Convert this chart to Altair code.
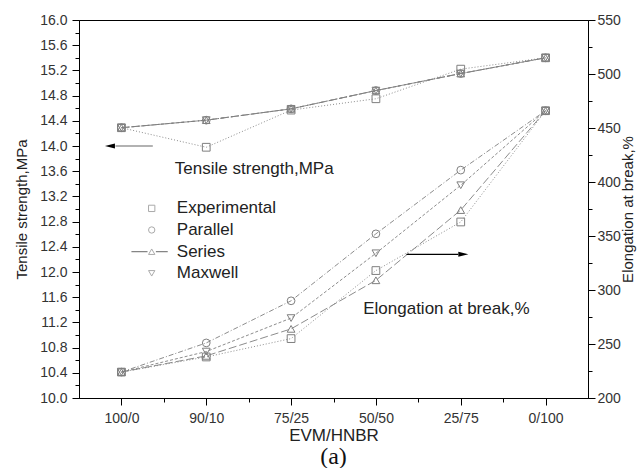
import json
import altair as alt
import pandas as pd

categories = ["100/0", "90/10", "75/25", "50/50", "25/75", "0/100"]
series_names = ["Experimental", "Parallel", "Series", "Maxwell"]
series_shapes = ["square", "circle", "triangle-up", "triangle-down"]

tensile_experimental = [14.29, 13.98, 14.57, 14.75, 15.22, 15.40]
tensile_parallel = [14.29, 14.41, 14.59, 14.88, 15.15, 15.40]
tensile_series = [14.29, 14.41, 14.59, 14.88, 15.15, 15.40]
tensile_maxwell = [14.29, 14.41, 14.59, 14.88, 15.15, 15.40]

elong_experimental = [224, 238, 255, 318, 363, 466]
elong_parallel = [224, 251, 290, 352, 411, 466]
elong_series = [224, 239, 264, 309, 374, 466]
elong_maxwell = [224, 243, 274, 334, 397, 466]

# annotation anchors (category-index units, axis units)
arrow_left_x = [1.37, 0.93]
arrow_left_head = [0.865]
arrow_left_y = [14.0]
arrow_right_x = [4.36, 4.97]
arrow_right_head = [5.03]
arrow_right_y = [333]
text_left = ["Tensile strength,MPa"]
text_left_pos = [1.63, 13.63]
text_right = ["Elongation at break,%"]
text_right_pos = [3.85, 282]
# in-plot legend anchors (left-axis units)
legend_symbol_x = 1.357
legend_label_x = 1.653
legend_rows_y = [13.01, 12.667, 12.322, 11.979]
legend_series_line = [1.118, 1.546]


def long_df(vals_by_series):
    rows = []
    for name, vals in zip(series_names, vals_by_series):
        for i, v in enumerate(vals):
            rows.append({"idx": i + 1, "series": name, "value": v})
    return pd.DataFrame(rows)


tensile_df = long_df([tensile_experimental, tensile_parallel, tensile_series, tensile_maxwell])
elong_df = long_df([elong_experimental, elong_parallel, elong_series, elong_maxwell])

FONT = "Liberation Sans"
GRAY = "#7f7f7f"

xscale = alt.Scale(domain=[0.5, 6.5], nice=False, zero=False)
xaxis = alt.Axis(
    title="EVM/HNBR",
    values=[1, 1.5, 2, 2.5, 3, 3.5, 4, 4.5, 5, 5.5, 6],
    labelExpr="datum.value % 1 == 0 ? " + json.dumps(categories) + "[datum.value - 1] : ''",
    tickSize={"condition": {"test": "datum.value % 1 == 0", "value": 7}, "value": 4},
    grid=False, labelPadding=6, titlePadding=2, titleFontSize=17,
)

left_scale = alt.Scale(domain=[10, 16], nice=False, zero=False)
left_axis = alt.Axis(
    orient="left", title="Tensile strength,MPa",
    values=[round(10 + 0.2 * i, 1) for i in range(31)],
    labelExpr="round(datum.value * 10) % 4 == 0 ? format(datum.value, '.1f') : ''",
    tickSize={"condition": {"test": "round(datum.value * 10) % 4 == 0", "value": 7}, "value": 4},
    grid=False, labelPadding=5, titlePadding=10, titleFontSize=15,
)
right_scale = alt.Scale(domain=[200, 550], nice=False, zero=False)
right_axis = alt.Axis(
    orient="right", title="Elongation at break,%",
    values=[200 + 25 * i for i in range(15)],
    labelExpr="datum.value % 50 == 0 ? format(datum.value, 'd') : ''",
    tickSize={"condition": {"test": "datum.value % 50 == 0", "value": 7}, "value": 4},
    grid=False, labelPadding=2, titlePadding=0, titleAngle=-90, titleBaseline="top",
    titleFontSize=15,
)

dash = alt.StrokeDash("series:N", scale=alt.Scale(domain=series_names,
                      range=[[1, 2], [5, 2, 1, 2], [8, 3], [3, 2]]), legend=None)
shape = alt.Shape("series:N", scale=alt.Scale(domain=series_names, range=series_shapes), legend=None)


def group(df, yscale, yaxis):
    x = alt.X("idx:Q", scale=xscale, axis=xaxis)
    y = alt.Y("value:Q", scale=yscale, axis=yaxis)
    base = alt.Chart(df)
    lines = base.mark_line(color=GRAY, strokeWidth=0.9).encode(x=x, y=y, strokeDash=dash)
    pts = base.mark_point(filled=False, color=GRAY, strokeWidth=1, size=60, opacity=1).encode(
        x=x, y=y, shape=shape)
    return lines, pts


tl, tp = group(tensile_df, left_scale, left_axis)
el, ep = group(elong_df, right_scale, right_axis)

xa = alt.X("idx:Q", scale=xscale, axis=xaxis)
yl = alt.Y("value:Q", scale=left_scale, axis=left_axis)
yr = alt.Y("value:Q", scale=right_scale, axis=right_axis)

la_df = pd.DataFrame({"idx": [arrow_left_x[0]], "idx2": [arrow_left_x[1]], "value": arrow_left_y})
la_shaft = alt.Chart(la_df).mark_rule(color="#999", strokeWidth=1.5).encode(x=xa, x2="idx2:Q", y=yl)
la_head = alt.Chart(pd.DataFrame({"idx": arrow_left_head, "value": arrow_left_y})).mark_point(
    shape="M-1,0L1,-0.5L1,0.5Z", filled=True, color="black", size=100, opacity=1).encode(x=xa, y=yl)
lt = alt.Chart(pd.DataFrame({"idx": [text_left_pos[0]], "value": [text_left_pos[1]], "t": text_left})).mark_text(
    align="left", baseline="middle", fontSize=17, font=FONT, color="#222").encode(x=xa, y=yl, text="t:N")

# legend drawn inside the plot
leg_df = pd.DataFrame({"idx": [legend_symbol_x] * 4, "lx": [legend_label_x] * 4,
                       "value": legend_rows_y, "series": series_names})
leg_line = alt.Chart(pd.DataFrame({"idx": [legend_series_line[0]], "idx2": [legend_series_line[1]],
                                   "value": [legend_rows_y[2]]})).mark_rule(
    color="#666", strokeWidth=1).encode(x=xa, x2="idx2:Q", y=yl)
leg_gap = alt.Chart(pd.DataFrame({"idx": [legend_symbol_x], "value": [legend_rows_y[2]]})).mark_point(
    shape="square", filled=True, color="white", size=70, opacity=1).encode(x=xa, y=yl)
leg_sym = alt.Chart(leg_df).mark_point(filled=False, color="#aaa", strokeWidth=1, size=40, opacity=1).encode(
    x=xa, y=yl, shape=shape)
leg_txt = alt.Chart(leg_df).mark_text(align="left", baseline="middle", fontSize=17, font=FONT,
                                      color="#222").encode(
    x=alt.X("lx:Q", scale=xscale, axis=xaxis), y=yl, text="series:N")

ra_df = pd.DataFrame({"idx": [arrow_right_x[0]], "idx2": [arrow_right_x[1]], "value": arrow_right_y})
ra_shaft = alt.Chart(ra_df).mark_rule(color="black", strokeWidth=1.2).encode(x=xa, x2="idx2:Q", y=yr)
ra_head = alt.Chart(pd.DataFrame({"idx": arrow_right_head, "value": arrow_right_y})).mark_point(
    shape="M1,0L-1,-0.5L-1,0.5Z", filled=True, color="black", size=100, opacity=1).encode(x=xa, y=yr)
rt = alt.Chart(pd.DataFrame({"idx": [text_right_pos[0]], "value": [text_right_pos[1]], "t": text_right})).mark_text(
    align="left", baseline="middle", fontSize=17, font=FONT, color="#222").encode(x=xa, y=yr, text="t:N")

left_group = alt.layer(tl, tp, la_shaft, la_head, lt, leg_line, leg_gap, leg_sym, leg_txt)
right_group = alt.layer(el, ep, ra_shaft, ra_head, rt)

chart = alt.layer(left_group, right_group).resolve_scale(y="independent").properties(
    width=509, height=378, autosize="none", background="white",
    padding={"left": 79, "top": 20, "right": 49, "bottom": 70},
    title=alt.TitleParams("(a)", orient="bottom", font="Liberation Serif", fontSize=24,
                          fontWeight="normal", color="#111", offset=2),
).configure_view(stroke="black", strokeWidth=1).configure_axis(
    domainColor="black", domainWidth=1, tickColor="black", tickWidth=1,
    labelFont=FONT, labelFontSize=14, labelColor="#333",
    titleFont=FONT, titleColor="#222", titleFontWeight="normal",
)

chart.save("out.html", embed_options={"renderer": "svg", "actions": False})
